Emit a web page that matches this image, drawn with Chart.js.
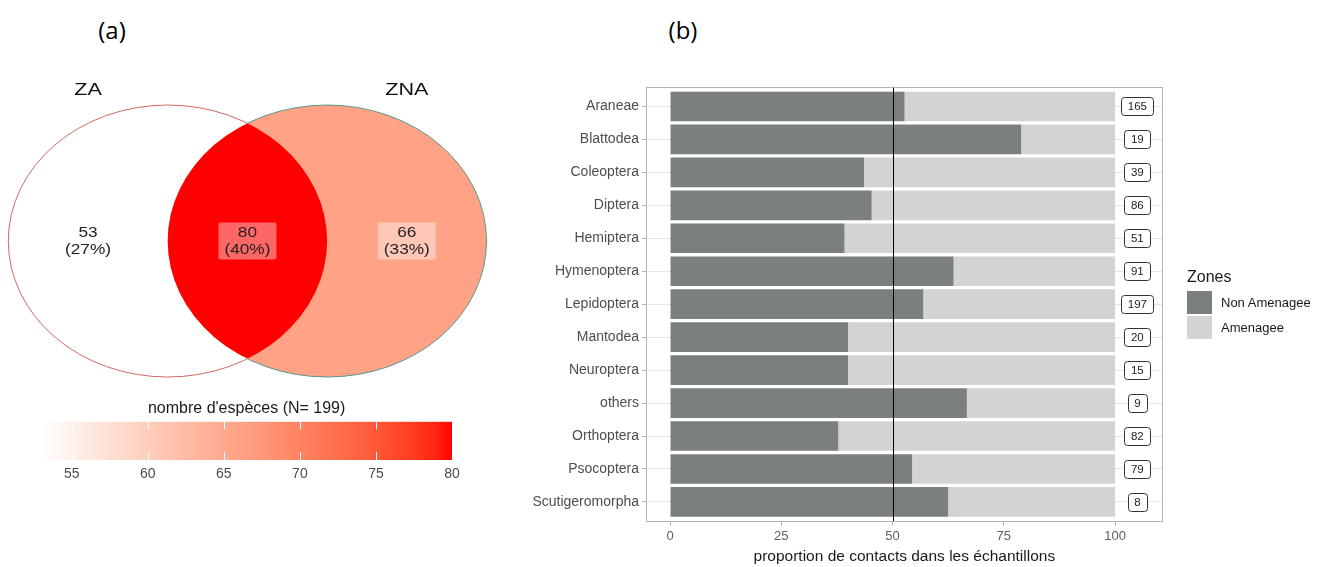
<!DOCTYPE html>
<html lang="fr">
<head>
<meta charset="UTF-8">
<title>Espèces ZA / ZNA et proportions de contacts</title>
<script src="https://cdn.jsdelivr.net/npm/chart.js"></script>
<style>
  body { margin: 0; background: #fff; font-family: "Liberation Sans", Arial, sans-serif; }
  #page { position: relative; width: 1335px; height: 567px; overflow: hidden; }
  canvas { position: absolute; }
  .tag { position: absolute; font-family: "Open Sans", sans-serif; font-size: 24px; color: #000;
         transform: translate(-50%, -50%); white-space: nowrap; }
  #legend { position: absolute; left: 1187px; top: 266px; color: #1a1a1a; }
  #legend .title { font-size: 16px; height: 24px; line-height: 22px; }
  #legend .item { position: relative; height: 25px; }
  #legend .swatch { position: absolute; left: 0; top: 1px; width: 25px; height: 23px; }
  #legend .label { position: absolute; left: 34px; top: 0; line-height: 25px; font-size: 13px; white-space: nowrap; }
</style>
</head>
<body>
<div id="page">
  <div class="tag" style="left:112px; top:29px">(a)</div>
  <div class="tag" style="left:683px; top:29px">(b)</div>
  <canvas id="venn" width="495" height="340" style="left:0; top:60px"></canvas>
  <canvas id="scale" width="495" height="100" style="left:0; top:395px"></canvas>
  <canvas id="bars" width="845" height="567" style="left:490px; top:0"></canvas>
  <div id="legend"></div>
</div>
<script>
  // ---- data: panel (b)
  const categories = ['Araneae', 'Blattodea', 'Coleoptera', 'Diptera', 'Hemiptera', 'Hymenoptera',
    'Lepidoptera', 'Mantodea', 'Neuroptera', 'others', 'Orthoptera', 'Psocoptera', 'Scutigeromorpha'];
  const nonAmenagee = [52.7, 78.9, 43.6, 45.3, 39.2, 63.7, 56.9, 40.0, 40.0, 66.7, 37.8, 54.4, 62.5];
  const amenagee = [47.3, 21.1, 56.4, 54.7, 60.8, 36.3, 43.1, 60.0, 60.0, 33.3, 62.2, 45.6, 37.5];
  const totals = [165, 19, 39, 86, 51, 91, 197, 20, 15, 9, 82, 79, 8];
  const xTicks = [0, 25, 50, 75, 100];
  const seriesNames = ['Non Amenagee', 'Amenagee'];
  const refLine = 50;

  // ---- data: panel (a)
  const setNames = ['ZA', 'ZNA'];
  const regionCounts = [53, 80, 66];   // ZA seule, ZA et ZNA, ZNA seule
  const totalSpecies = 199;
  const colorbarTicks = [55, 60, 65, 70, 75, 80];

  const DARK = '#7a7f7f';
  const LIGHT = '#d3d3d3';
  Chart.defaults.font.family = '"Liberation Sans", Arial, sans-serif';

  // white -> red in Lab space, like scale_fill_gradient
  const LOW_LAB = [100, 0, 0], HIGH_LAB = [53.24, 80.09, 67.2];
  function labToRgb(L, a, b) {
    const fy = (L + 16) / 116, fx = fy + a / 500, fz = fy - b / 200;
    const finv = t => t > 6 / 29 ? t * t * t : 3 * (6 / 29) ** 2 * (t - 4 / 29);
    const X = 0.95047 * finv(fx), Y = finv(fy), Z = 1.08883 * finv(fz);
    const lin = [3.2406 * X - 1.5372 * Y - 0.4986 * Z,
                 -0.9689 * X + 1.8758 * Y + 0.0415 * Z,
                 0.0557 * X - 0.2040 * Y + 1.0570 * Z];
    return lin.map(c => {
      c = Math.min(1, Math.max(0, c));
      const s = c <= 0.0031308 ? 12.92 * c : 1.055 * Math.pow(c, 1 / 2.4) - 0.055;
      return Math.round(255 * s);
    });
  }
  const lo = Math.min(...regionCounts), hi = Math.max(...regionCounts);
  function colorFor(v) {
    const t = (v - lo) / (hi - lo);
    return 'rgb(' + labToRgb(...LOW_LAB.map((l, i) => l + (HIGH_LAB[i] - l) * t)).join(',') + ')';
  }

  // panel (a) is stretched horizontally in the original figure
  function stretchedText(ctx, text, x, y, sx) {
    ctx.save();
    ctx.translate(x, y);
    ctx.scale(sx, 1);
    ctx.fillText(text, 0, 0);
    ctx.restore();
  }

  // ---- Venn diagram, geometry in scale units (radius 1)
  const VENN = {
    centers: [[0, 0], [1, 0]],
    regionAt: [[-0.5, 0], [0.5, 0], [1.5, 0]],
    nameAt: [[-0.5, 1.11], [1.5, 1.11]]
  };

  const vennPlugin = {
    id: 'venn',
    afterDraw(chart) {
      const ctx = chart.ctx, xs = chart.scales.x, ys = chart.scales.y;
      const rx = xs.getPixelForValue(1) - xs.getPixelForValue(0);
      const ry = ys.getPixelForValue(0) - ys.getPixelForValue(1);
      const c = VENN.centers.map(([x, y]) => [xs.getPixelForValue(x), ys.getPixelForValue(y)]);
      const path = i => { ctx.beginPath(); ctx.ellipse(c[i][0], c[i][1], rx, ry, 0, 0, 2 * Math.PI); };

      ctx.save();
      ctx.lineWidth = 1;
      path(0);
      ctx.fillStyle = colorFor(regionCounts[0]);
      ctx.fill();
      ctx.strokeStyle = '#cf6a62';
      ctx.stroke();

      path(1);
      ctx.fillStyle = colorFor(regionCounts[2]);
      ctx.fill();

      ctx.save();
      path(0);
      ctx.clip();
      path(1);
      ctx.fillStyle = colorFor(regionCounts[1]);
      ctx.fill();
      ctx.restore();

      // ZNA outline only outside ZA
      ctx.save();
      ctx.beginPath();
      ctx.rect(0, 0, chart.width, chart.height);
      ctx.ellipse(c[0][0], c[0][1], rx, ry, 0, 0, 2 * Math.PI);
      ctx.clip('evenodd');
      path(1);
      ctx.strokeStyle = '#5a9690';
      ctx.stroke();
      ctx.restore();

      ctx.textAlign = 'center';
      ctx.textBaseline = 'middle';
      regionCounts.forEach((n, i) => {
        const x = xs.getPixelForValue(VENN.regionAt[i][0]);
        const y = ys.getPixelForValue(VENN.regionAt[i][1]);
        ctx.fillStyle = 'rgba(255,255,255,0.4)';
        ctx.beginPath();
        ctx.roundRect(x - 29, y - 18.5, 58, 37, 2);
        ctx.fill();
        ctx.fillStyle = '#222';
        ctx.font = '15px "Liberation Sans", Arial, sans-serif';
        stretchedText(ctx, String(n), x, y - 8.5, 1.15);
        stretchedText(ctx, '(' + Math.round(100 * n / totalSpecies) + '%)', x, y + 8.5, 1.15);
      });

      ctx.fillStyle = '#111';
      ctx.font = '17px "Liberation Sans", Arial, sans-serif';
      setNames.forEach((name, i) => {
        stretchedText(ctx, name, xs.getPixelForValue(VENN.nameAt[i][0]), ys.getPixelForValue(VENN.nameAt[i][1]), 1.27);
      });
      ctx.restore();
    }
  };

  new Chart(document.getElementById('venn'), {
    type: 'scatter',
    data: { datasets: [] },
    options: {
      responsive: false,
      animation: false,
      layout: { padding: 0 },
      plugins: { legend: { display: false }, tooltip: { enabled: false } },
      scales: {
        x: { type: 'linear', display: false, min: -1.052, max: 2.053 },
        y: { type: 'linear', display: false, min: -1.169, max: 1.331 }
      }
    },
    plugins: [vennPlugin]
  });

  // ---- colour bar
  function gradientFill(context) {
    const chart = context.chart;
    if (!chart.chartArea) return LIGHT;
    const xs = chart.scales.x;
    const g = chart.ctx.createLinearGradient(xs.getPixelForValue(lo), 0, xs.getPixelForValue(hi), 0);
    for (let v = lo; v <= hi; v++) g.addColorStop((v - lo) / (hi - lo), colorFor(v));
    return g;
  }

  const colorbarTicksPlugin = {
    id: 'colorbarTicks',
    afterDatasetsDraw(chart) {
      const { ctx, chartArea: a, scales: { x } } = chart;
      const len = a.height * 0.2;
      ctx.save();
      ctx.strokeStyle = '#fff';
      ctx.lineWidth = 1;
      colorbarTicks.forEach(v => {
        const px = Math.round(x.getPixelForValue(v)) + 0.5;
        ctx.beginPath();
        ctx.moveTo(px, a.top); ctx.lineTo(px, a.top + len);
        ctx.moveTo(px, a.bottom - len); ctx.lineTo(px, a.bottom);
        ctx.stroke();
      });
      ctx.restore();
    }
  };

  new Chart(document.getElementById('scale'), {
    type: 'bar',
    data: {
      labels: [''],
      datasets: [{
        data: [[lo, hi]],
        backgroundColor: gradientFill,
        borderWidth: 0,
        barPercentage: 1,
        categoryPercentage: 1
      }]
    },
    options: {
      indexAxis: 'y',
      responsive: false,
      animation: false,
      layout: { padding: { left: 41.3, right: 43, top: 0, bottom: 0 } },
      plugins: {
        legend: { display: false },
        tooltip: { enabled: false },
        title: {
          display: true,
          text: "nombre d'espèces (N= " + totalSpecies + ")",
          color: '#1a1a1a',
          font: { size: 16, weight: 'normal' },
          padding: { top: 4, bottom: 3.5 }
        }
      },
      scales: {
        x: {
          type: 'linear', min: lo, max: hi,
          afterBuildTicks: s => { s.ticks = colorbarTicks.map(v => ({ value: v })); },
          afterFit: s => { s.height = 35; },
          grid: { display: false, drawTicks: false },
          border: { display: false },
          ticks: { color: '#4d4d4d', font: { size: 14 }, padding: 5.6 }
        },
        y: { display: false }
      }
    },
    plugins: [colorbarTicksPlugin]
  });

  // ---- panel (b): stacked proportions
  const panelPlugin = {
    id: 'panel',
    afterDatasetsDraw(chart) {
      const { ctx, chartArea: a, scales: { x, y } } = chart;
      ctx.save();
      const xr = Math.round(x.getPixelForValue(refLine)) + 0.5;
      ctx.strokeStyle = '#000';
      ctx.lineWidth = 1;
      ctx.beginPath();
      ctx.moveTo(xr, a.top);
      ctx.lineTo(xr, a.bottom);
      ctx.stroke();

      ctx.strokeStyle = '#b3b3b3';
      ctx.strokeRect(Math.round(a.left) + 0.5, Math.round(a.top) + 0.5,
                     Math.round(a.width) - 1, Math.round(a.height) - 1);

      // total counts in boxes
      ctx.font = '11.5px "Liberation Sans", Arial, sans-serif';
      ctx.textAlign = 'center';
      ctx.textBaseline = 'middle';
      totals.forEach((n, i) => {
        const cx = x.getPixelForValue(105), cy = y.getPixelForValue(i);
        const w = ctx.measureText(String(n)).width + 13, h = 18;
        ctx.beginPath();
        ctx.roundRect(Math.round(cx - w / 2) + 0.5, Math.round(cy - h / 2) + 0.5, Math.round(w), h, 3);
        ctx.fillStyle = '#fff';
        ctx.fill();
        ctx.strokeStyle = '#333';
        ctx.stroke();
        ctx.fillStyle = '#222';
        ctx.fillText(String(n), cx, cy + 0.5);
      });
      ctx.restore();
    }
  };

  new Chart(document.getElementById('bars'), {
    type: 'bar',
    data: {
      datasets: [
        { label: seriesNames[0], data: nonAmenagee.map((v, i) => ({ x: v, y: i })),
          backgroundColor: DARK, borderWidth: 0, barPercentage: 0.9, categoryPercentage: 1 },
        { label: seriesNames[1], data: amenagee.map((v, i) => ({ x: v, y: i })),
          backgroundColor: LIGHT, borderWidth: 0, barPercentage: 0.9, categoryPercentage: 1 }
      ]
    },
    options: {
      indexAxis: 'y',
      responsive: false,
      animation: false,
      layout: { padding: { top: 86.7, right: 172.3, bottom: 0, left: 0 } },
      plugins: { legend: { display: false }, tooltip: { enabled: false } },
      scales: {
        x: {
          type: 'linear', stacked: true, min: -5.4, max: 110.7,
          afterBuildTicks: s => { s.ticks = xTicks.map(v => ({ value: v })); },
          afterFit: s => { s.height = 45.3; },
          grid: { drawOnChartArea: false, drawTicks: true, tickLength: 4, tickColor: '#b3b3b3' },
          border: { display: false },
          ticks: { color: '#5e5e5e', font: { size: 13 }, padding: 2.5 },
          title: {
            display: true,
            text: 'proportion de contacts dans les échantillons',
            color: '#1a1a1a',
            font: { size: 15.5 },
            padding: { top: 0, bottom: 1 }
          }
        },
        y: {
          type: 'linear', stacked: true, reverse: true, min: -0.6, max: 12.6, offset: false,
          afterBuildTicks: s => { s.ticks = categories.map((_, i) => ({ value: i })); },
          afterFit: s => { s.width = 156; },
          grid: { color: '#e6e6e6', tickColor: '#b3b3b3', tickLength: 4, offset: false },
          border: { display: false },
          ticks: { callback: v => categories[v], color: '#4d4d4d', font: { size: 14 }, padding: 3, autoSkip: false }
        }
      }
    },
    plugins: [panelPlugin]
  });

  // ---- legend "Zones"
  const legend = document.getElementById('legend');
  legend.innerHTML = '<div class="title">Zones</div>' + seriesNames.map((name, i) =>
    '<div class="item"><div class="swatch" style="background:' + [DARK, LIGHT][i] + '"></div>' +
    '<div class="label">' + name + '</div></div>').join('');
</script>
</body>
</html>
